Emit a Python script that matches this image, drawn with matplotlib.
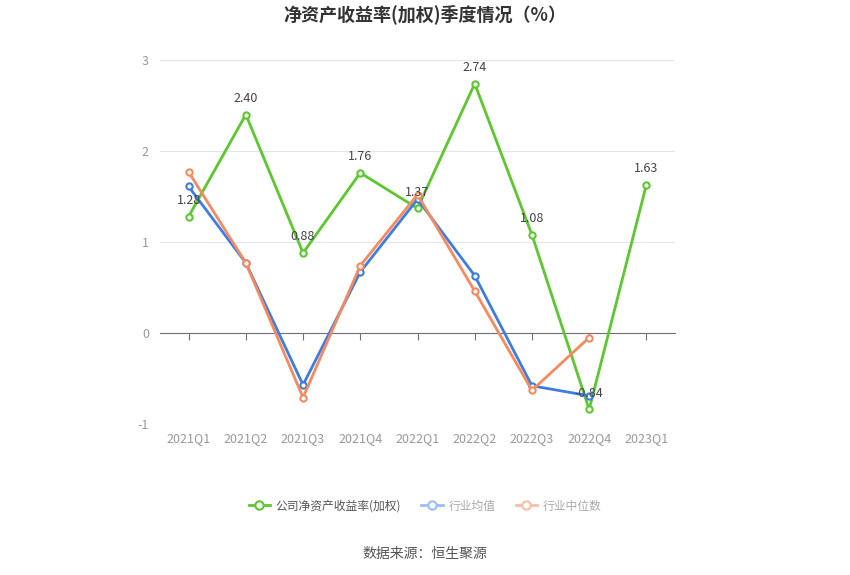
import matplotlib
matplotlib.use('Agg')
import matplotlib.pyplot as plt

plt.rcParams['font.family'] = ['Noto Sans CJK SC', 'DejaVu Sans']
plt.rcParams['axes.unicode_minus'] = False

quarters = ['2021Q1', '2021Q2', '2021Q3', '2021Q4', '2022Q1', '2022Q2', '2022Q3', '2022Q4', '2023Q1']
roe = [1.28, 2.40, 0.88, 1.76, 1.37, 2.74, 1.08, -0.84, 1.63]
ind_avg = [1.61, 0.77, -0.57, 0.67, 1.47, 0.63, -0.58, -0.69]
ind_med = [1.77, 0.77, -0.71, 0.74, 1.52, 0.46, -0.63, -0.05]

green = '#5cc72e'
blue = '#3d7de3'
orange = '#f58a5e'

fig = plt.figure(figsize=(8.5, 5.75), dpi=100)
ax = fig.add_axes([160/850, 151/575, 515/850, 364/575])

x = list(range(len(quarters)))
ax.plot(x, roe, color=green, lw=2, marker='o', ms=4.5, mfc='white', mew=1.5, zorder=3)
ax.plot(x[:len(ind_avg)], ind_avg, color=blue, lw=2, marker='o', ms=4.5, mfc='white', mew=1.5, zorder=4)
ax.plot(x[:len(ind_med)], ind_med, color=orange, lw=2, marker='o', ms=4.5, mfc='white', mew=1.5, zorder=4)

for i, v in enumerate(roe):
    ax.annotate('%.2f' % v, (i, v), xytext=(0, 7), textcoords='offset points',
                ha='center', va='bottom', fontsize=9, color='#444444', zorder=5)

ax.set_xlim(-0.5, len(quarters) - 0.5)
ax.set_ylim(-1, 3)
ax.set_yticks([-1, 0, 1, 2, 3])
ax.grid(axis='y', color='#e0e6f1', lw=0.8)
ax.set_axisbelow(True)
for s in ['top', 'right', 'left']:
    ax.spines[s].set_visible(False)
ax.spines['bottom'].set_position(('data', 0))
ax.spines['bottom'].set_color('#6e7079')
ax.set_xticks(x)
ax.tick_params(axis='x', length=5, color='#6e7079', labelbottom=False)
ax.tick_params(axis='y', length=0, labelsize=9, labelcolor='#999999', pad=8)

sec = ax.secondary_xaxis(0)
sec.set_xticks(x)
sec.set_xticklabels(quarters)
sec.tick_params(length=0, labelsize=9, labelcolor='#999999', pad=6)
sec.spines['bottom'].set_visible(False)

fig.text(0.5, 1 - 14/575, '净资产收益率(加权)季度情况（%）', ha='center', va='center',
         fontsize=13, fontweight='bold', color='#333333')

h1, = ax.plot([], [], color=green, lw=2, marker='o', ms=6, mfc='white', mew=1.5)
h2, = ax.plot([], [], color='#9dbcf0', lw=2, marker='o', ms=6, mfc='white', mew=1.5)
h3, = ax.plot([], [], color='#f9bea6', lw=2, marker='o', ms=6, mfc='white', mew=1.5)
leg = fig.legend([h1, h2, h3], ['公司净资产收益率(加权)', '行业均值', '行业中位数'],
                 loc='center', bbox_to_anchor=(0.5, 1 - 506/575), ncol=3, frameon=False,
                 fontsize=8.5, handlelength=1.8, columnspacing=1.7, handletextpad=0.5)
for t, c in zip(leg.get_texts(), ['#555555', '#aaaaaa', '#aaaaaa']):
    t.set_color(c)

fig.text(0.5, 1 - 554/575, '数据来源：恒生聚源', ha='center', va='center', fontsize=10, color='#555555')

fig.savefig('out.png', dpi=100)
